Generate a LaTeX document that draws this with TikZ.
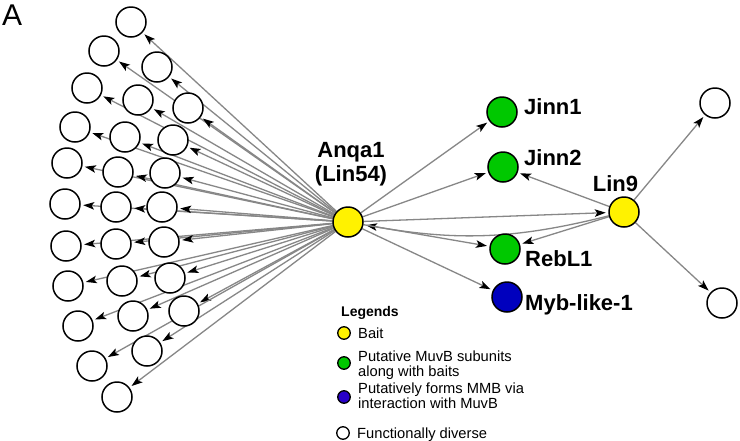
\documentclass[tikz,border=0pt]{standalone}
\usepackage{fontspec}
\setmainfont{Liberation Sans}
\usetikzlibrary{arrows.meta}
\pgfdeclarelayer{bg}
\pgfsetlayers{bg,main}
\definecolor{mgreen}{RGB}{0,200,0}
\definecolor{mblue}{RGB}{0,0,190}
\definecolor{lblue}{RGB}{40,0,200}
\definecolor{edgegray}{RGB}{135,135,135}
\begin{document}
\begin{tikzpicture}[x=1pt,y=-1pt,
  circ/.style={circle,draw=black,line width=1.5pt,minimum size=30pt,inner sep=0pt,fill=white},
  bait/.style={circ,fill=yellow},
  muvb/.style={circ,fill=mgreen},
  mmb/.style={circ,fill=mblue},
  lcirc/.style={circle,draw=black,line width=1.3pt,minimum size=12.5pt,inner sep=0pt},
  edge/.style={draw=edgegray,line width=1.3pt,-{Stealth[length=11pt,width=7.5pt,inset=2.5pt,color=black]},shorten >=2.5pt},
  lbl/.style={font=\fontsize{22}{24}\selectfont\bfseries,inner sep=0pt},
  ltxt/.style={font=\fontsize{14.7}{14.7}\selectfont,inner sep=0pt,anchor=base west},
]
\useasboundingbox (0,0) rectangle (740,440);

\node[font=\fontsize{30}{30}\selectfont,inner sep=0pt,anchor=base west] (panel) at (2,25) {A};

% main nodes
\node[bait] (anqa) at (348,222) {};
\node[bait] (lin9) at (624,212) {};
\node[muvb] (jinn1) at (502,112) {};
\node[muvb] (jinn2) at (503,167) {};
\node[muvb] (rebl1) at (505,249) {};
\node[mmb]  (myb)   at (507,297) {};
\node[circ] (r1) at (715,103) {};
\node[circ] (r2) at (722,303) {};

% fan nodes
\foreach \px/\py [count=\i] in {
  131/22,
  104/51, 157/67,
  87/88, 138/100, 188/108,
  75/127, 125/137, 173/140,
  67/163, 118/172, 165/173,
  65/204, 116/207, 162/207,
  66/246, 116/244, 164/242,
  68/286, 122/281, 170/278,
  78/326, 133/316, 184/311,
  92/366, 147/351,
  117/397}
  \node[circ] (f\i) at (\px,\py) {};

% edges
\begin{pgfonlayer}{bg}
\fill[white] (0,0) rectangle (740,440);
\foreach \i in {1,...,27}
  \draw[edge] (anqa) -- (f\i);
\draw[edge] (anqa) -- (lin9);
\draw[edge] (lin9) to[bend left=12] (anqa);
\draw[edge] (anqa) -- (jinn1);
\draw[edge] (anqa) -- (jinn2);
\draw[edge] (anqa) -- (rebl1);
\draw[edge] (anqa) -- (myb);
\draw[edge] (lin9) -- (jinn2);
\draw[edge] (lin9) -- (rebl1);
\draw[edge] (lin9) -- (r1);
\draw[edge] (lin9) -- (r2);
\end{pgfonlayer}

% labels
\node[lbl,anchor=base] (lanqa) at (351,157) {Anqa1};
\node[lbl,anchor=base] (llin54) at (351,181) {(Lin54)};
\node[lbl,anchor=base] (llin9) at (615.5,191.5) {Lin9};
\node[lbl,anchor=base west] (ljinn1) at (524,114) {Jinn1};
\node[lbl,anchor=base west] (ljinn2) at (524,165) {Jinn2};
\node[lbl,anchor=base west] (lrebl1) at (525,266.5) {RebL1};
\node[lbl,anchor=base west] (lmyb) at (525,310) {Myb-like-1};

% legend
\node[font=\fontsize{14}{14}\selectfont\bfseries,inner sep=0pt,anchor=base west] (leg) at (341,316) {Legends};
\node[lcirc,fill=yellow] (lg1) at (344,333) {};
\node[ltxt] (lt1) at (358,338) {Bait};
\node[lcirc,fill=mgreen] (lg2) at (344,363) {};
\node[ltxt] (lt2a) at (358,361) {Putative MuvB subunits};
\node[ltxt] (lt2b) at (358,376) {along with baits};
\node[lcirc,fill=lblue] (lg3) at (344,397) {};
\node[ltxt] (lt3a) at (358,393) {Putatively forms MMB via};
\node[ltxt] (lt3b) at (358,408) {interaction with MuvB};
\node[lcirc,fill=white] (lg4) at (343,433) {};
\node[ltxt] (lt4) at (357,438) {Functionally diverse};
\end{tikzpicture}
\end{document}
